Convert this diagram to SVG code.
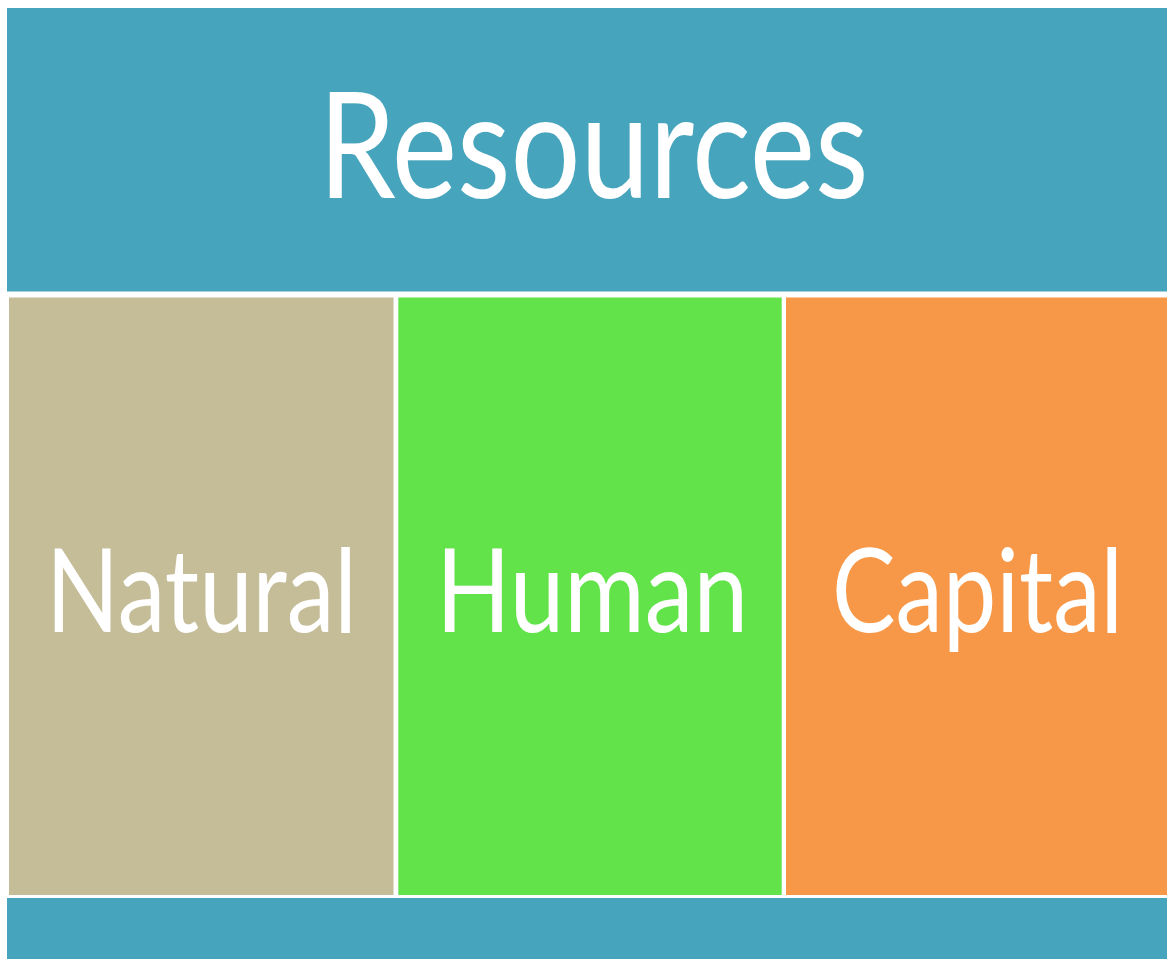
<svg xmlns="http://www.w3.org/2000/svg" width="1167" height="959" viewBox="0 0 1167 959">
<style>
.lbl{font-family:Lato,"Open Sans","Liberation Sans",sans-serif;fill:#ffffff;text-anchor:middle}
.big{font-size:148px}
.mid{font-size:116px}
</style>
<rect x="0" y="0" width="1167" height="959" fill="#ffffff"/>
<g id="resources">
<rect x="7" y="8" width="1160" height="283.5" fill="#47A4BD"/>
<text class="lbl big" x="593.5" y="198" textLength="550" lengthAdjust="spacingAndGlyphs">Resources</text>
</g>
<g id="natural">
<rect x="9" y="297.5" width="384.5" height="597.5" fill="#C5BC98"/>
<text class="lbl mid" x="201.5" y="632" textLength="311" lengthAdjust="spacingAndGlyphs">Natural</text>
</g>
<g id="human">
<rect x="398.3" y="297.5" width="383.4" height="597.5" fill="#62E34A"/>
<text class="lbl mid" x="592" y="632" textLength="312" lengthAdjust="spacingAndGlyphs">Human</text>
</g>
<g id="capital">
<rect x="786" y="297.5" width="381" height="597.5" fill="#F79848"/>
<text class="lbl mid" x="977.5" y="632" textLength="291" lengthAdjust="spacingAndGlyphs">Capital</text>
</g>
<g id="footer">
<rect x="7" y="898" width="1160" height="61" fill="#47A4BD"/>
</g>
<g id="connectors"></g>
</svg>
